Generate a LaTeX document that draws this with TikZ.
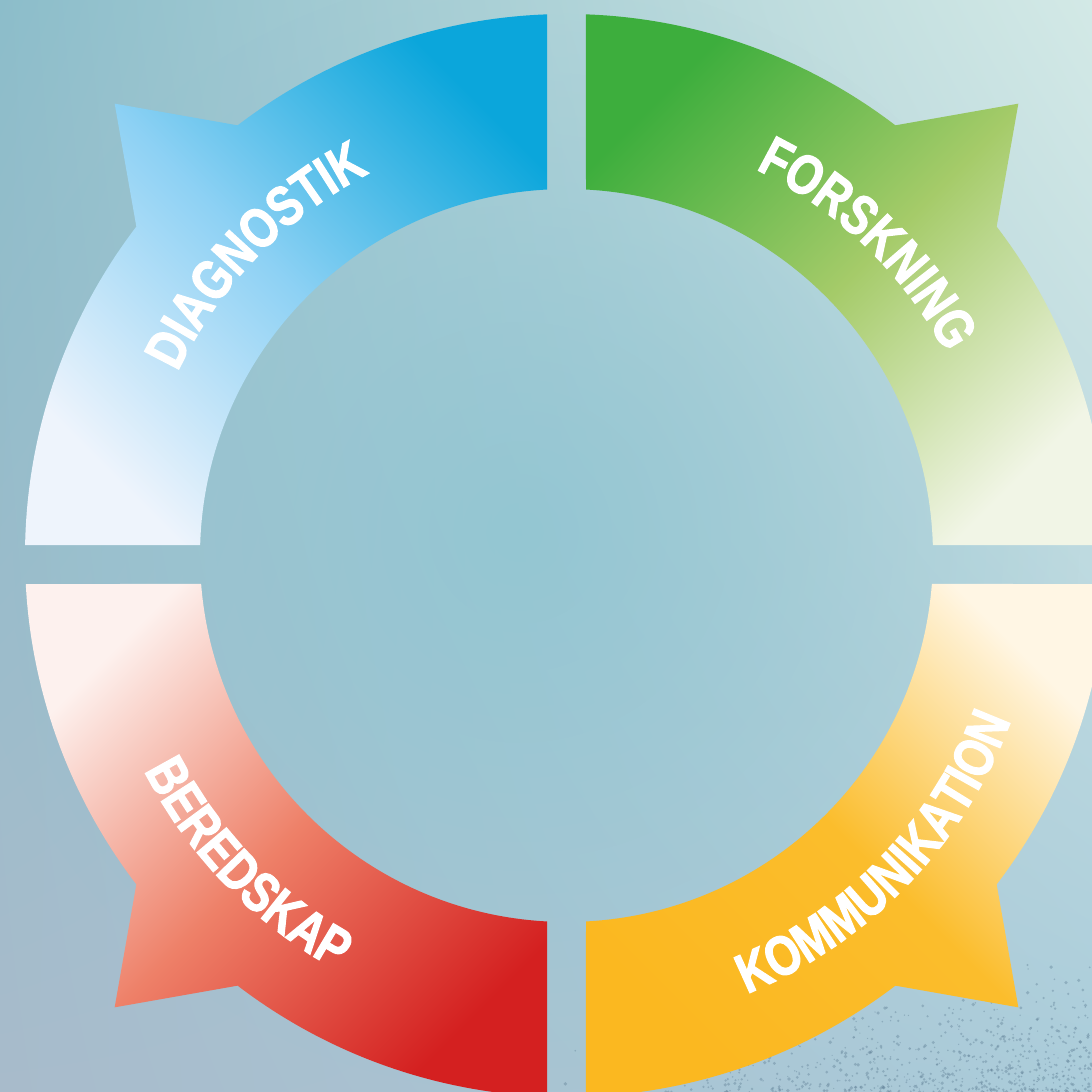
\documentclass[tikz,border=0pt]{standalone}
\usepackage{fontspec}
\usetikzlibrary{decorations.text,fadings,shadings}
\newfontfamily\ringfont[FakeStretch=0.80, FakeBold=2]{Liberation Sans Bold}

\definecolor{bgtl}{HTML}{8CBDCA}
\definecolor{bgtr}{HTML}{D3E9E6}
\definecolor{bgbl}{HTML}{A8BBCB}
\definecolor{bgbr}{HTML}{AACCDA}
\definecolor{bgmid}{HTML}{8EC5D2}
\definecolor{speckgray}{HTML}{5F7F95}
\definecolor{diagdark}{HTML}{0BA6DB}
\definecolor{diagmid}{HTML}{8DD1F4}
\definecolor{diaglight}{HTML}{EEF4FC}
\definecolor{forskdark}{HTML}{3DAE3D}
\definecolor{forskmid}{HTML}{A5CB69}
\definecolor{forsklight}{HTML}{F1F5E6}
\definecolor{kommdark}{HTML}{FBB820}
\definecolor{kommmid}{HTML}{FBBD2C}
\definecolor{kommlight}{HTML}{FFF6E4}
\definecolor{bereddark}{HTML}{D42020}
\definecolor{beredmid}{HTML}{EE8068}
\definecolor{beredlight}{HTML}{FDF1EE}

\tikzfading[name=bgglow, inner color=transparent!0, outer color=transparent!100]

\tikzset{
  diagseg/.style={top color=diagdark, bottom color=diaglight, middle color=diagmid, shading angle=-45},
  forskseg/.style={top color=forskdark, bottom color=forsklight, middle color=forskmid, shading angle=45},
  kommseg/.style={top color=kommlight, bottom color=kommdark, middle color=kommmid, shading angle=-45},
  beredseg/.style={top color=beredlight, bottom color=bereddark, middle color=beredmid, shading angle=45},
  speck/.style={fill=speckgray, opacity=0.4},
  ringlabel/.style={decorate, decoration={text along path, text align=center, text color=white,
      text={|\ringfont\fontsize{42}{42}\selectfont|#1}}},
}

\def\Ro{541.5}
\def\Ri{366.5}
\def\Rt{639}

\begin{document}
\begin{tikzpicture}[x=0.75pt,y=0.75pt]
    \useasboundingbox (0,0) rectangle (1092,1092);
    \clip (0,0) rectangle (1092,1092);

    %Background
    \shade[upper left=bgtl, upper right=bgtr, lower left=bgbl, lower right=bgbr] (0,0) rectangle (1092,1092);
    \fill[bgmid, fill opacity=0.8, path fading=bgglow] (520,560) circle (560);
    % grain in the lower right corner
    \pgfmathsetseed{11}
    \foreach \k in {1,...,800}{
      \pgfmathsetmacro{\sx}{560+532*sqrt(rnd)}
      \pgfmathsetmacro{\sy}{140*rnd*rnd}
      \fill[speck] (\sx,\sy) circle (0.6+1.3*rnd);
    }

    \begin{scope}[shift={(566.5,536.5)}]
    %Shape: Ring segment [DIAGNOSTIK]
    \shade[diagseg] (92.06:\Ro) arc[start angle=92.06, end angle=127.4, radius=\Ro] -- (135:\Rt) -- (142.6:\Ro) arc[start angle=142.6, end angle=178.89, radius=\Ro] -- (178.36:\Ri) arc[start angle=178.36, end angle=93.05, radius=\Ri] -- cycle;
    %Shape: Ring segment [FORSKNING]
    \shade[forskseg] (87.94:\Ro) arc[start angle=87.94, end angle=52.6, radius=\Ro] -- (45:\Rt) -- (37.4:\Ro) arc[start angle=37.4, end angle=1.11, radius=\Ro] -- (1.64:\Ri) arc[start angle=1.64, end angle=86.95, radius=\Ri] -- cycle;
    %Shape: Ring segment [KOMMUNIKATION]
    \shade[kommseg] (356.98:\Ro) arc[start angle=356.98, end angle=322.6, radius=\Ro] -- (315:\Rt) -- (307.4:\Ro) arc[start angle=307.4, end angle=272.06, radius=\Ro] -- (273.05:\Ri) arc[start angle=273.05, end angle=355.54, radius=\Ri] -- cycle;
    %Shape: Ring segment [BEREDSKAP]
    \shade[beredseg] (183.02:\Ro) arc[start angle=183.02, end angle=217.4, radius=\Ro] -- (225:\Rt) -- (232.6:\Ro) arc[start angle=232.6, end angle=267.94, radius=\Ro] -- (266.95:\Ri) arc[start angle=266.95, end angle=184.46, radius=\Ri] -- cycle;

    % Text along the ring
    \path[ringlabel=DIAGNOSTIK] (176:430) arc[start angle=176, end angle=96, radius=430];
    \path[ringlabel=FORSKNING] (86:430) arc[start angle=86, end angle=6, radius=430];
    \path[ringlabel=KOMMUNIKATION] (276:474) arc[start angle=276, end angle=356, radius=474];
    \path[ringlabel=BEREDSKAP] (184:474) arc[start angle=184, end angle=264, radius=474];
    \end{scope}
\end{tikzpicture}
\end{document}
